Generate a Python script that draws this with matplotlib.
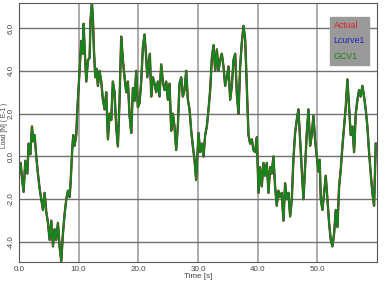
#!/usr/bin/env python3
"""Load reconstruction: actual load vs. L-curve and GCV regularised estimates."""
import matplotlib
matplotlib.use("Agg")
import matplotlib.pyplot as plt

# time [s] and load [N] (E-1)
time_s = [
    0.0, 0.28, 0.5, 0.78, 1.06, 1.4, 1.62, 1.9, 2.18, 2.4, 2.62, 2.9, 3.18, 3.46,
    3.74, 4.02, 4.3, 4.58, 4.86, 5.14, 5.42, 5.7, 5.97, 6.25, 6.53, 6.81, 7.09,
    7.37, 7.65, 7.93, 8.21, 8.49, 8.65, 8.93, 9.1, 9.32, 9.6, 9.77, 9.99, 10.22,
    10.44, 10.67, 10.83, 11.0, 11.28, 11.56, 11.84, 12.0, 12.23, 12.4, 12.56,
    12.79, 13.01, 13.23, 13.51, 13.79, 14.07, 14.35, 14.63, 14.91, 15.19, 15.47,
    15.74, 16.02, 16.3, 16.58, 16.86, 17.14, 17.42, 17.7, 17.98, 18.26, 18.54,
    18.82, 19.1, 19.38, 19.65, 19.93, 20.21, 20.49, 20.77, 21.05, 21.33, 21.5,
    21.73, 21.94, 22.17, 22.45, 22.73, 23.0, 23.28, 23.56, 23.84, 24.12, 24.4,
    24.68, 24.96, 25.24, 25.52, 25.8, 26.07, 26.35, 26.63, 26.91, 27.19, 27.47,
    27.75, 28.03, 28.31, 28.59, 28.87, 29.15, 29.42, 29.7, 30.1, 30.37, 30.65,
    30.93, 31.21, 31.49, 31.77, 32.05, 32.33, 32.61, 32.89, 33.17, 33.45, 33.72,
    34.0, 34.28, 34.56, 34.84, 35.12, 35.4, 35.68, 35.96, 36.24, 36.52, 36.8,
    37.07, 37.35, 37.63, 37.91, 38.19, 38.47, 38.75, 39.03, 39.31, 39.59, 39.87,
    40.15, 40.42, 40.7, 40.98, 41.26, 41.54, 41.82, 42.1, 42.37, 42.65, 42.93,
    43.21, 43.49, 43.77, 44.05, 44.33, 44.61, 44.89, 45.17, 45.45, 45.73, 46.0,
    46.28, 46.56, 46.84, 47.12, 47.4, 47.68, 47.96, 48.24, 48.52, 48.8, 49.08,
    49.35, 49.63, 49.91, 50.2, 50.4, 50.59, 50.87, 51.15, 51.42, 51.7, 51.98,
    52.26, 52.54, 52.82, 53.1, 53.38, 53.66, 53.94, 54.22, 54.49, 54.77, 55.05,
    55.33, 55.61, 55.89, 56.17, 56.45, 56.73, 57.0, 57.28, 57.56, 57.84, 58.12,
    58.4, 58.68, 58.96, 59.24, 59.52, 59.8,
]
actual = [
    -0.8, -0.3, -1.0, -1.65, -0.2, -0.8, 0.6, 0.1, 1.4, 0.7, 1.0, 0.0, -0.8, -1.5,
    -2.0, -2.5, -1.7, -2.6, -3.1, -3.9, -3.0, -4.2, -3.4, -3.9, -3.1, -4.2, -4.9,
    -3.6, -2.7, -2.0, -1.6, -1.9, -1.25, 0.33, 1.0, 0.5, 1.0, 2.1, 3.2, 4.3,
    5.4, 4.8, 6.2, 5.1, 3.5, 4.5, 4.6, 6.4, 7.2, 6.4,
    5.0, 3.7, 4.1, 3.3, 4.0, 3.5, 2.65, 2.2, 3.0, 0.8, 2.0, 1.7,
    3.5, 3.0, 1.4, 0.47, 2.65, 5.6, 4.5, 3.7, 3.0, 3.5, 1.9,
    1.1, 3.2, 2.6, 4.0, 2.3, 2.5, 3.5, 5.1, 5.7, 4.6, 3.7,
    4.3, 4.8, 2.8, 3.7, 3.4, 3.0, 3.5, 2.8, 4.3, 3.5, 3.1,
    3.5, 2.65, 3.4, 1.2, 2.0, 1.4, 0.3, 1.4, 3.4, 3.7, 2.8,
    3.1, 4.0, 2.65, 2.2, 1.2, 0.47, -0.15, -1.1, 1.1, 0.2, 0.6,
    0.0, 1.0, 1.4, 2.2, 3.1, 4.6, 5.2, 4.0, 5.0, 4.0, 4.5,
    4.8, 4.2, 3.3, 3.7, 4.2, 2.65, 3.3, 4.5, 4.8, 2.9, 2.0,
    4.2, 5.3, 6.1, 5.5, 3.3, 1.0, 0.6, 0.8, 0.3, 0.2, 0.9,
    -1.7, -0.5, -1.4, -0.3, -0.9, -0.3, -1.7, -0.5, -0.8, 0.0, -1.4,
    -2.3, -1.6, -1.9, -1.7, -3.0, -1.25, -2.0, -1.7, -2.8, -2.0, -0.15,
    1.1, 1.7, 2.2, 0.8, -0.6, -2.0, -0.5, 1.1, 2.2, 0.5, 1.0,
    1.9, 0.8, 0.0, -0.7, -0.15, -2.0, -2.5, -1.7, -0.9, -2.0, -3.1,
    -3.9, -4.2, -3.6, -2.5, -3.3, -1.4, -0.6, 0.5, 1.4, 2.3, 3.6,
    2.3, 1.0, 1.4, 0.2, 2.0, 2.65, 3.1, 2.8, 3.3, 2.8, 2.2,
    1.4, 0.2, -0.8, -1.7, -2.3, 0.6,
]
# the two estimates follow the actual load to within a line width
lcurve1 = list(actual)
gcv1 = list(actual)

series_names = ["Actual", "Lcurve1", "GCV1"]
series_colors = ["#e0201c", "#2323b8", "#17851a"]
x_ticks = [0, 10, 20, 30, 40, 50]
y_ticks = [-4, -2, 0, 2, 4, 6]

plt.rcParams["font.family"] = ["Liberation Sans", "DejaVu Sans"]

fig = plt.figure(figsize=(3.87, 2.86), dpi=100)
ax = fig.add_axes([0.049, 0.084, 0.925, 0.904])

widths = [1.7, 1.2, 1.4]
for vals, name, color, lw in zip([actual, lcurve1, gcv1], series_names, series_colors, widths):
    ax.plot(time_s, vals, color=color, lw=lw, label=name)

ax.set_xlim(0, 60)
ax.set_ylim(-4.93, 7.15)
ax.set_xticks(x_ticks)
ax.set_xticklabels([f"{t:.1f}" for t in x_ticks])
ax.set_yticks(y_ticks)
ax.set_yticklabels([f"{v:.1f}" for v in y_ticks], rotation=90, va="center")
ax.tick_params(length=0, labelsize=5.8, colors="#444444", pad=3)
ax.xaxis.grid(True, color="#a5a5a5", lw=1.3)
ax.yaxis.grid(True, color="#707070", lw=1.0)
ax.set_axisbelow(True)
for s in ax.spines.values():
    s.set_color("#555555")
    s.set_linewidth(0.8)

ax.set_xlabel("Time [s]", fontsize=5.8, color="#444444", labelpad=0)
ax.set_ylabel("Load [N] ( E-1 )", fontsize=4.8, color="#444444")
ax.yaxis.set_label_coords(-0.031, 0.53)

leg = ax.legend(loc="upper right", bbox_to_anchor=(0.99, 0.965), handlelength=0,
                handletextpad=0, fontsize=6.3, frameon=True, fancybox=False,
                borderpad=0.45, labelspacing=0.75)
leg.get_frame().set_facecolor("#999999")
leg.get_frame().set_edgecolor("#999999")
leg.get_frame().set_alpha(1.0)
for txt, color in zip(leg.get_texts(), series_colors):
    txt.set_color(color)
for h in leg.legend_handles:
    h.set_visible(False)

fig.savefig("out.png", dpi=100)
